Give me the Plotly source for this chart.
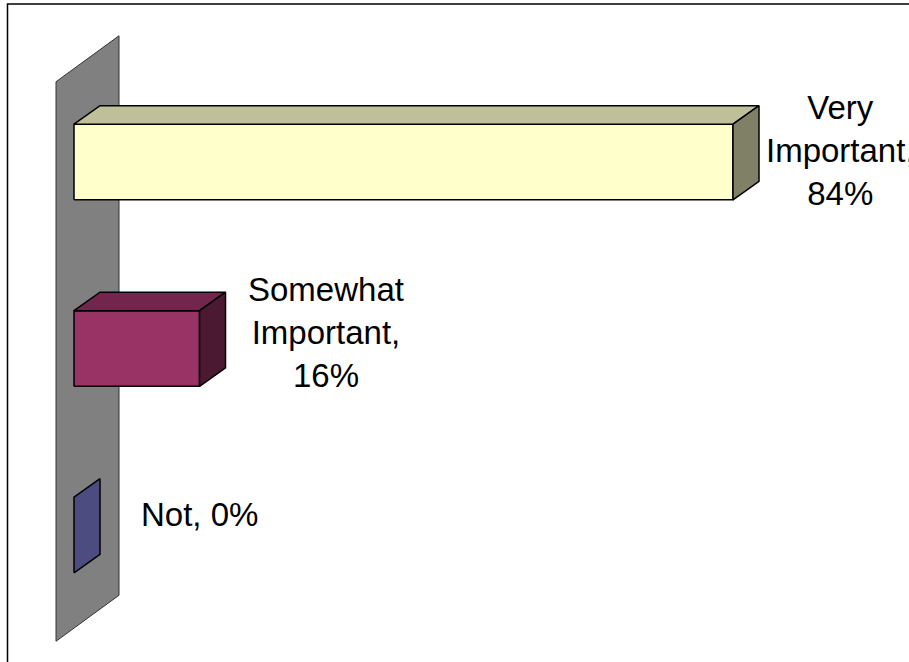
import plotly.graph_objects as go

# ---- data ----
categories = ["Not", "Somewhat Important", "Very Important"]
values = [0, 16, 84]

# ---- style ----
front_colors = ["#9999FF", "#993366", "#FFFFCC"]
top_colors = ["#73738F", "#73264D", "#BFBF99"]
side_colors = ["#4C4C80", "#4C1933", "#808066"]
wall_color = "#808080"
label_xshift = [99, 100, 81]
label_yshift = [11, 7, 2]

W, H = 909, 662
PX_PER_VAL = 659 / 84.0      # horizontal scale (px per percentage point)
PX_PER_CAT = 186.5           # vertical scale (px per category)
ZERO_PX = 74                 # pixel of value 0 on front plane
TOP_CAT_PX = 162             # pixel of top category centre
BAR_H = 0.405


def off(dx_px, dy_px):
    """convert a pixel depth offset into axis units"""
    return dx_px / PX_PER_VAL, -dy_px / PX_PER_CAT


dX, dY = off(26, -18.5)          # bar depth
wfX, wfY = off(-18, 13)          # wall front edge
wbX, wbY = off(45, -33)          # wall back edge

fig = go.Figure()


def poly(xs, ys, fill, lw=1.5, lc="black"):
    fig.add_trace(go.Scatter(
        x=xs + [xs[0]], y=ys + [ys[0]], mode="lines", fill="toself",
        fillcolor=fill, line=dict(color=lc, width=lw),
        hoverinfo="skip", showlegend=False))


n = len(categories)
# wall (value = 0 plane)
poly([wfX, wbX, wbX, wfX],
     [-0.5 + wfY, -0.5 + wbY, n - 0.5 + wbY, n - 0.5 + wfY],
     wall_color, lw=1, lc="#333333")

for i, (cat, v) in enumerate(zip(categories, values)):
    lo, hi = i - BAR_H / 2, i + BAR_H / 2
    if v > 0:
        poly([0, v, v, 0], [lo, lo, hi, hi], front_colors[i])
        poly([0, v, v + dX, dX], [hi, hi, hi + dY, hi + dY], top_colors[i])
    poly([v, v + dX, v + dX, v], [lo, lo + dY, hi + dY, hi], side_colors[i])

    words = cat.split(" ")
    if len(words) > 1:
        txt = "<br>".join(words) + ",<br>" + f"{v}%"
    else:
        txt = f"{cat}, {v}%"
    fig.add_annotation(
        x=v + dX, y=i + dY / 2, text=txt, showarrow=False,
        xanchor="center", yanchor="middle",
        xshift=label_xshift[i], yshift=label_yshift[i],
        font=dict(family="Liberation Sans, Arial", size=33, color="black"),
        align="center")

# chart border
fig.add_shape(type="rect", xref="paper", yref="paper",
              x0=7.5 / W, x1=1.05, y0=-0.05, y1=1 - 4 / H,
              line=dict(color="black", width=1.5), fillcolor="rgba(0,0,0,0)")

fig.update_layout(
    width=W, height=H,
    margin=dict(l=0, r=0, t=0, b=0),
    paper_bgcolor="white", plot_bgcolor="white",
    xaxis=dict(range=[-ZERO_PX / PX_PER_VAL, (W - ZERO_PX) / PX_PER_VAL],
               visible=False, fixedrange=True),
    yaxis=dict(range=[(n - 1) - (H - TOP_CAT_PX) / PX_PER_CAT,
                      (n - 1) + TOP_CAT_PX / PX_PER_CAT],
               visible=False, fixedrange=True),
    showlegend=False,
)

fig.write_html(
    "out.html",
    config={"displayModeBar": False},
    post_script="document.body.style.margin='0px';document.body.style.overflow='hidden';",
)
